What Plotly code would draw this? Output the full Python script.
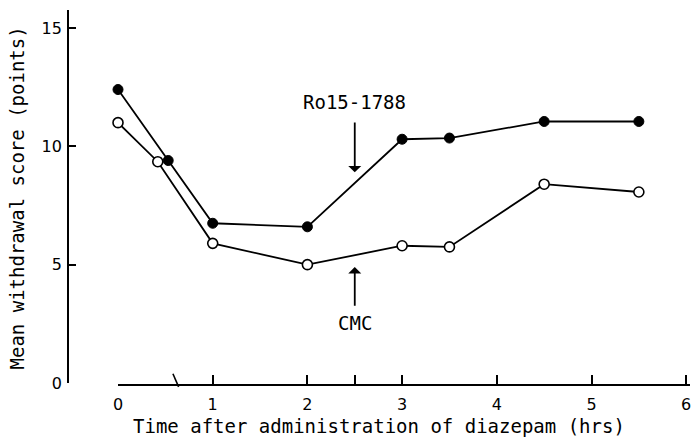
import plotly.graph_objects as go

# Mean withdrawal score after diazepam, two treatment groups
hours_ro = [0, 0.53, 1, 2, 3, 3.5, 4.5, 5.5]
score_ro = [12.4, 9.4, 6.75, 6.6, 10.3, 10.35, 11.05, 11.05]

hours_cmc = [0, 0.42, 1, 2, 3, 3.5, 4.5, 5.5]
score_cmc = [11.0, 9.35, 5.9, 5.0, 5.8, 5.75, 8.4, 8.07]

x_ticks = [0, 1, 2, 2.5, 3, 4, 5, 6]
x_tick_text = ["0", "1", "2", "", "3", "4", "5", "6"]
y_ticks = [0, 5, 10, 15]
axis_break_at = 0.62

label_font = dict(family="DejaVu Sans Mono", size=19, color="black")
tick_font = dict(family="DejaVu Sans", size=16, color="black")

fig = go.Figure()
fig.add_trace(go.Scatter(
    x=hours_ro, y=score_ro, mode="lines+markers", name="Ro15-1788", cliponaxis=False,
    line=dict(color="black", width=1.8),
    marker=dict(symbol="circle", size=10, color="black", line=dict(color="black", width=1)),
))
fig.add_trace(go.Scatter(
    x=hours_cmc, y=score_cmc, mode="lines+markers", name="CMC", cliponaxis=False,
    line=dict(color="black", width=1.8),
    marker=dict(symbol="circle", size=10, color="white", line=dict(color="black", width=1.6)),
))

fig.update_layout(
    width=692, height=441,
    margin=dict(l=68, r=2, t=10, b=56),
    paper_bgcolor="white", plot_bgcolor="white",
    showlegend=False,
    xaxis=dict(
        domain=[0.0804, 1], range=[0, 6.04], anchor="free", position=0,
        showline=True, linecolor="black", linewidth=1.8,
        ticks="inside", ticklen=9, tickwidth=1.6, tickcolor="black",
        tickvals=x_ticks, ticktext=x_tick_text, tickfont=tick_font, ticklabelstandoff=5,
        showgrid=False, zeroline=False,
    ),
    yaxis=dict(
        domain=[0.0053, 1], range=[0, 15.76], anchor="free", position=0,
        showline=True, linecolor="black", linewidth=1.8,
        ticks="inside", ticklen=7, tickwidth=1.6, tickcolor="black",
        tickvals=y_ticks, tickfont=tick_font, ticklabelstandoff=2,
        showgrid=False, zeroline=False,
    ),
)

# break mark on the time axis
fig.add_shape(type="line", xref="x", yref="paper",
              x0=axis_break_at - 0.04, x1=axis_break_at + 0.02, y0=0.03, y1=-0.005,
              line=dict(color="black", width=1.6))

# group labels with arrows
fig.add_annotation(x=2.5, y=8.9, ax=2.5, ay=11.07, xref="x", yref="y", axref="x", ayref="y",
                   text="", showarrow=True, arrowhead=1, arrowsize=1.2, arrowwidth=1.8, arrowcolor="black")
fig.add_annotation(x=2.5, y=11.87, xref="x", yref="y", text="Ro15-1788", showarrow=False,
                   font=label_font)
fig.add_annotation(x=2.5, y=4.9, ax=2.5, ay=3.2, xref="x", yref="y", axref="x", ayref="y",
                   text="", showarrow=True, arrowhead=1, arrowsize=1.2, arrowwidth=1.8, arrowcolor="black")
fig.add_annotation(x=2.5, y=2.53, xref="x", yref="y", text="CMC", showarrow=False,
                   font=label_font)

# axis titles
fig.add_annotation(xref="paper", yref="paper", x=0.5, y=-0.144, text="Time after administration of diazepam (hrs)",
                   showarrow=False, font=label_font, xanchor="center", yanchor="bottom")
fig.add_annotation(xref="paper", yref="paper", x=-0.082, y=0.50, text="Mean withdrawal score (points)",
                   showarrow=False, font=label_font, textangle=-90, xanchor="center", yanchor="middle")

fig.write_html("out.html")
